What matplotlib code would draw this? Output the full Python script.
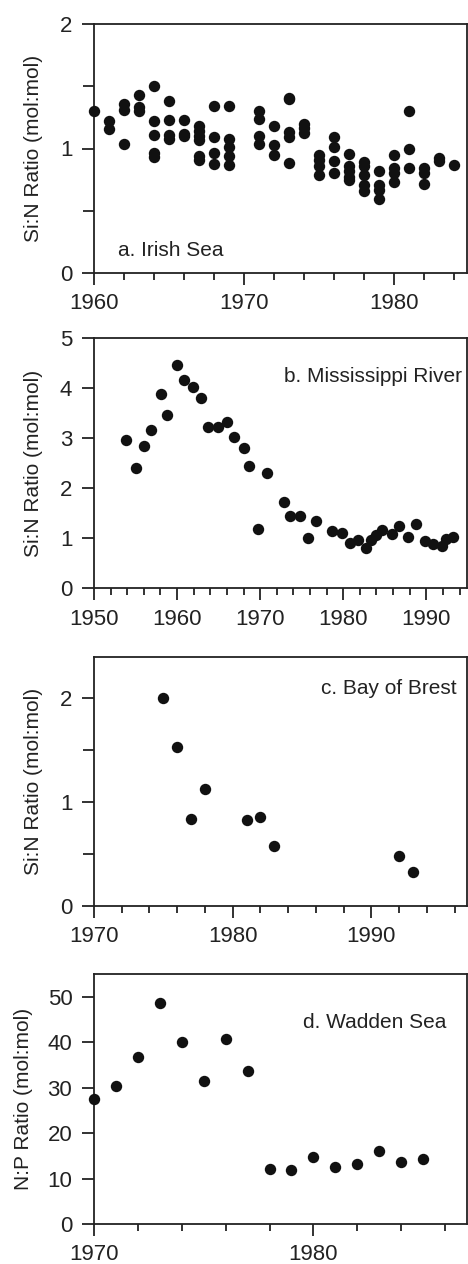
import matplotlib
matplotlib.use("Agg")
import matplotlib.pyplot as plt
from matplotlib.ticker import MultipleLocator

plt.rcParams['font.family'] = ['Liberation Sans', 'DejaVu Sans']

# ---- a. Irish Sea ----
irish_year = [1960,
              1961, 1961,
              1962, 1962, 1962,
              1963, 1963, 1963,
              1964, 1964, 1964, 1964, 1964,
              1965, 1965, 1965, 1965,
              1966, 1966, 1966,
              1967, 1967, 1967, 1967, 1967, 1967,
              1968, 1968, 1968, 1968,
              1969, 1969, 1969, 1969, 1969,
              1971, 1971, 1971, 1971,
              1972, 1972, 1972,
              1973, 1973, 1973, 1973, 1973,
              1974, 1974, 1974,
              1975, 1975, 1975, 1975,
              1976, 1976, 1976, 1976,
              1977, 1977, 1977, 1977, 1977,
              1978, 1978, 1978, 1978, 1978,
              1979, 1979, 1979, 1979,
              1980, 1980, 1980, 1980,
              1981, 1981, 1981,
              1982, 1982, 1982,
              1983, 1983,
              1984]
irish_ratio = [1.30,
               1.22, 1.16,
               1.36, 1.31, 1.035,
               1.43, 1.33, 1.30,
               1.50, 1.22, 1.11, 0.96, 0.93,
               1.385, 1.23, 1.11, 1.08,
               1.23, 1.12, 1.10,
               1.18, 1.14, 1.10, 1.07, 0.94, 0.905,
               1.34, 1.09, 0.96, 0.877,
               1.34, 1.08, 1.016, 0.936, 0.864,
               1.30, 1.24, 1.10, 1.04,
               1.18, 1.03, 0.95,
               1.405, 1.395, 1.136, 1.096, 0.882,
               1.20, 1.163, 1.123,
               0.95, 0.91, 0.856, 0.79,
               1.09, 1.016, 0.896, 0.80,
               0.957, 0.856, 0.816, 0.775, 0.743,
               0.89, 0.856, 0.79, 0.71, 0.655,
               0.816, 0.71, 0.668, 0.596,
               0.944, 0.842, 0.80, 0.727,
               1.305, 0.995, 0.842,
               0.842, 0.80, 0.714,
               0.922, 0.896,
               0.869]

# ---- b. Mississippi River ----
miss_year = [1953.9, 1955.0, 1956.0, 1956.9, 1958.1, 1958.8, 1960.0, 1960.8,
             1961.9, 1962.9, 1963.7, 1964.9, 1966.0, 1966.8, 1968.0, 1968.7,
             1969.8, 1970.8, 1972.9, 1973.6, 1974.8, 1975.8, 1976.7, 1978.6,
             1979.8, 1980.8, 1981.8, 1982.7, 1983.3, 1983.9, 1984.7, 1985.9,
             1986.7, 1987.8, 1988.8, 1989.8, 1990.8, 1991.9, 1992.4, 1993.2]
miss_ratio = [2.97, 2.40, 2.85, 3.17, 3.88, 3.47, 4.47, 4.17,
              4.03, 3.80, 3.22, 3.22, 3.32, 3.03, 2.81, 2.45,
              1.19, 2.31, 1.73, 1.45, 1.45, 1.00, 1.35, 1.15,
              1.10, 0.90, 0.97, 0.81, 0.97, 1.07, 1.17, 1.08,
              1.25, 1.02, 1.28, 0.95, 0.89, 0.85, 0.98, 1.03]

# ---- c. Bay of Brest ----
brest_year = [1975, 1976, 1977, 1978, 1981, 1982, 1983, 1992, 1993]
brest_ratio = [2.00, 1.53, 0.84, 1.13, 0.83, 0.86, 0.58, 0.48, 0.33]

# ---- d. Wadden Sea ----
wadden_year = [1970, 1971, 1972, 1973, 1974, 1975, 1976, 1977,
               1978, 1979, 1980, 1981, 1982, 1983, 1984, 1985]
wadden_ratio = [27.5, 30.4, 36.8, 48.7, 40.1, 31.5, 40.7, 33.7,
                12.2, 11.9, 14.7, 12.5, 13.3, 16.1, 13.6, 14.4]

W, H = 468, 1264
fig = plt.figure(figsize=(W / 100, H / 100), dpi=100)

ink = '#222222'
dot = '#111111'

def make_ax(top_px, bot_px):
    left = 94 / W
    width = (467 - 94) / W
    return fig.add_axes([left, 1 - bot_px / H, width, (bot_px - top_px) / H])

panels = [
    dict(top=24, bot=273, x=irish_year, y=irish_ratio, xlim=(1960, 1984.9),
         ylim=(0, 2), ymaj=1, ymin=0.5, ylabel='Si:N Ratio (mol:mol)',
         label='a. Irish Sea', lx=0.064, ly=0.068, ha='left', labx=-0.137),
    dict(top=338.3, bot=588.3, x=miss_year, y=miss_ratio, xlim=(1950, 1994.9),
         ylim=(0, 5), ymaj=1, ymin=None, ylabel='Si:N Ratio (mol:mol)',
         label='b. Mississippi River', lx=0.987, ly=0.826, ha='right', labx=-0.137),
    dict(top=656.7, bot=906, x=brest_year, y=brest_ratio, xlim=(1970, 1996.9),
         ylim=(0, 2.4), ymaj=1, ymin=0.5, ylabel='Si:N Ratio (mol:mol)',
         label='c. Bay of Brest', lx=0.973, ly=0.850, ha='right', labx=-0.137),
    dict(top=974, bot=1224, x=wadden_year, y=wadden_ratio, xlim=(1970, 1987),
         ylim=(0, 55), ymaj=10, ymin=None, ylabel='N:P Ratio (mol:mol)',
         label='d. Wadden Sea', lx=0.944, ly=0.783, ha='right', labx=-0.1635),
]

for p in panels:
    ax = make_ax(p['top'], p['bot'])
    ax.plot(p['x'], p['y'], linestyle='none', marker='o', ms=8.2,
            mfc=dot, mec=dot, mew=0, clip_on=False, zorder=3)
    ax.set_xlim(*p['xlim'])
    ax.set_ylim(*p['ylim'])
    ax.xaxis.set_major_locator(MultipleLocator(10))
    ax.xaxis.set_minor_locator(MultipleLocator(2))
    ax.yaxis.set_major_locator(MultipleLocator(p['ymaj']))
    if p['ymin']:
        ax.yaxis.set_minor_locator(MultipleLocator(p['ymin']))
    for s in ax.spines.values():
        s.set_linewidth(1.3)
        s.set_color(ink)
    ax.tick_params(which='major', direction='out', length=8.6, width=1.3,
                   color=ink, labelsize=16, labelcolor=ink)
    ax.tick_params(which='minor', direction='out', length=5, width=1.3, color=ink)
    ax.tick_params(axis='y', which='minor', length=8)
    ax.tick_params(axis='y', which='major', pad=7)
    ax.tick_params(axis='x', which='major', pad=6)
    ax.set_ylabel(p['ylabel'], fontsize=15, color=ink)
    ax.yaxis.set_label_coords(p['labx'], 0.5)
    ax.text(p['lx'], p['ly'], p['label'], transform=ax.transAxes, fontsize=15,
            ha=p['ha'], va='baseline', color=ink)

fig.savefig('out.png', dpi=100)
